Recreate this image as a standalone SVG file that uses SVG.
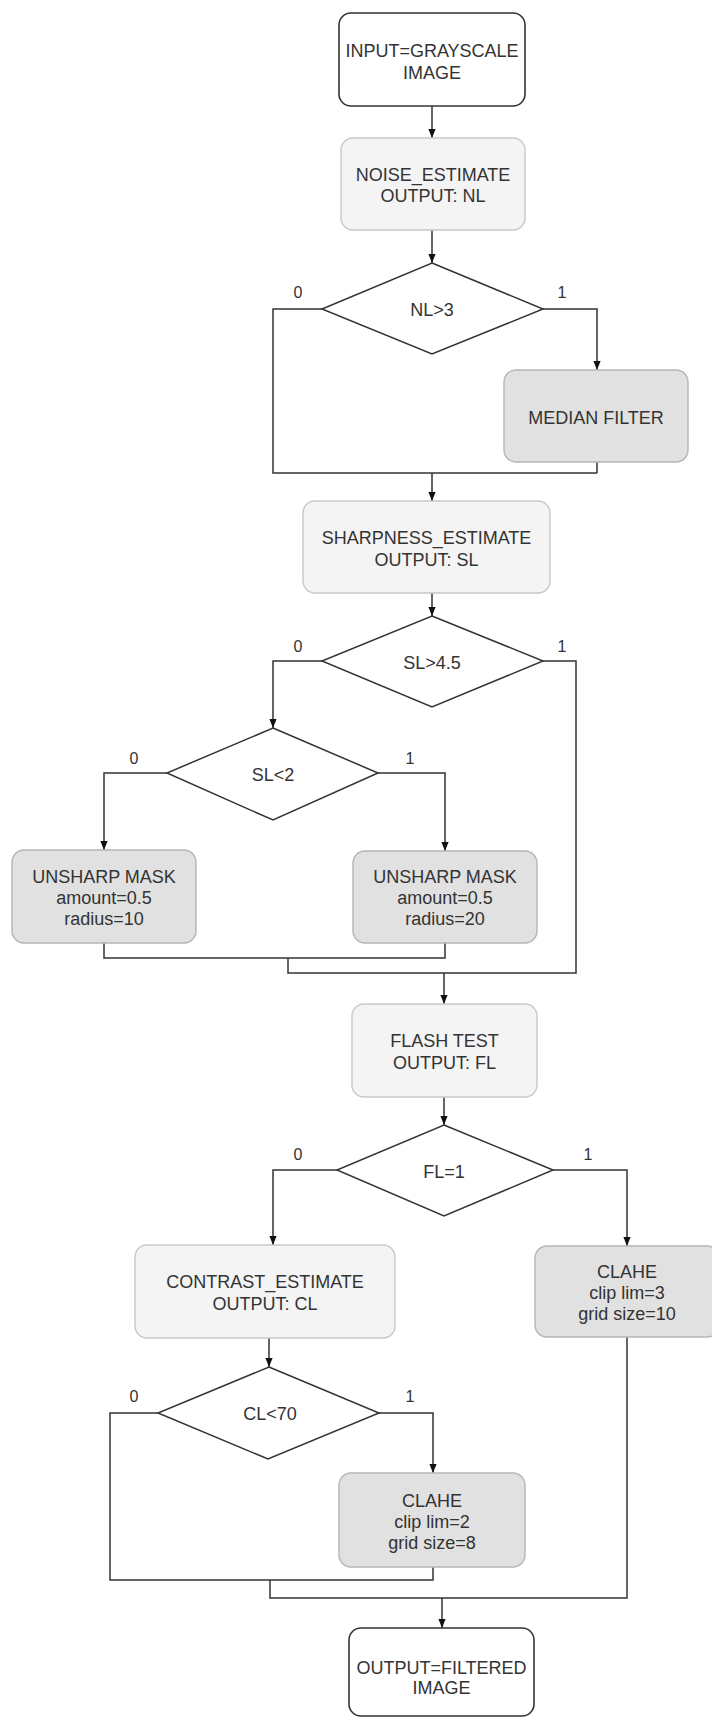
<svg xmlns="http://www.w3.org/2000/svg" width="712" height="1718" viewBox="0 0 712 1718">
<style>
  text { font-family: "Liberation Sans", Arial, sans-serif; font-size: 18px; fill: #333; text-anchor: middle; }
  .lbl { font-size: 16px; }
  .io { fill: #ffffff; stroke: #333; stroke-width: 1.6; }
  .est { fill: #f4f4f4; stroke: #c8c8c8; stroke-width: 1.4; }
  .act { fill: #e1e1e1; stroke: #b5b5b5; stroke-width: 1.4; }
  .dec { fill: #ffffff; stroke: #333; stroke-width: 1.5; }
  .c { fill: none; stroke: #333; stroke-width: 1.5; }
</style>
<defs>
  <marker id="arr" viewBox="0 0 10 8" refX="10" refY="4" markerWidth="9" markerHeight="8" markerUnits="userSpaceOnUse" orient="auto">
    <path d="M0,0 L10,4 L0,8 z" fill="#111"/>
  </marker>
</defs>
<rect width="712" height="1718" fill="#ffffff"/>

<g id="connectors">
  <path class="c" d="M432,106 V138" marker-end="url(#arr)"/>
  <path class="c" d="M432,230 V263" marker-end="url(#arr)"/>
  <path class="c" d="M322,309 H273 V473 H597"/>
  <path class="c" d="M543,309 H597 V370" marker-end="url(#arr)"/>
  <path class="c" d="M597,462 V473"/>
  <path class="c" d="M432,473 V501" marker-end="url(#arr)"/>
  <path class="c" d="M432,593 V616" marker-end="url(#arr)"/>
  <path class="c" d="M543,661 H576 V973 H288 V958"/>
  <path class="c" d="M322,661 H273 V728" marker-end="url(#arr)"/>
  <path class="c" d="M167,773 H104 V850" marker-end="url(#arr)"/>
  <path class="c" d="M378,773 H445 V851" marker-end="url(#arr)"/>
  <path class="c" d="M104,943 V958 H445 V943"/>
  <path class="c" d="M444,973 V1004" marker-end="url(#arr)"/>
  <path class="c" d="M444,1097 V1125" marker-end="url(#arr)"/>
  <path class="c" d="M337,1170 H273 V1245" marker-end="url(#arr)"/>
  <path class="c" d="M553,1170 H627 V1246" marker-end="url(#arr)"/>
  <path class="c" d="M269,1338 V1367" marker-end="url(#arr)"/>
  <path class="c" d="M158,1413 H110 V1580 H433 V1567"/>
  <path class="c" d="M379,1413 H433 V1473" marker-end="url(#arr)"/>
  <path class="c" d="M627,1337 V1598 H270 V1580"/>
  <path class="c" d="M442,1598 V1628" marker-end="url(#arr)"/>
  <text class="lbl" x="298" y="298">0</text>
  <text class="lbl" x="562" y="298">1</text>
  <text class="lbl" x="298" y="652">0</text>
  <text class="lbl" x="562" y="652">1</text>
  <text class="lbl" x="134" y="764">0</text>
  <text class="lbl" x="410" y="764">1</text>
  <text class="lbl" x="298" y="1160">0</text>
  <text class="lbl" x="588" y="1160">1</text>
  <text class="lbl" x="134" y="1402">0</text>
  <text class="lbl" x="410" y="1402">1</text>
</g>

<g id="input">
  <rect class="io" x="339" y="13" width="186" height="93" rx="12"/>
  <text x="432" y="56.5">INPUT=GRAYSCALE</text>
  <text x="432" y="78.5">IMAGE</text>
</g>
<g id="noise">
  <rect class="est" x="341" y="138" width="184" height="92" rx="12"/>
  <text x="433" y="180.5">NOISE_ESTIMATE</text>
  <text x="433" y="202">OUTPUT: NL</text>
</g>
<g id="d_nl">
  <polygon class="dec" points="432,263 543,309 432,354 322,309"/>
  <text x="432" y="315.5">NL&gt;3</text>
</g>
<g id="median">
  <rect class="act" x="504" y="370" width="184" height="92" rx="12"/>
  <text x="596" y="423.5">MEDIAN FILTER</text>
</g>
<g id="sharpness">
  <rect class="est" x="303" y="501" width="247" height="92" rx="12"/>
  <text x="426.5" y="543.5">SHARPNESS_ESTIMATE</text>
  <text x="426.5" y="566">OUTPUT: SL</text>
</g>
<g id="d_sl45">
  <polygon class="dec" points="432,616 543,661 432,707 322,661"/>
  <text x="432" y="669">SL&gt;4.5</text>
</g>
<g id="d_sl2">
  <polygon class="dec" points="273,728 378,773 273,820 167,773"/>
  <text x="273" y="781">SL&lt;2</text>
</g>
<g id="unsharp10">
  <rect class="act" x="12" y="850" width="184" height="93" rx="12"/>
  <text x="104" y="883">UNSHARP MASK</text>
  <text x="104" y="904">amount=0.5</text>
  <text x="104" y="925">radius=10</text>
</g>
<g id="unsharp20">
  <rect class="act" x="353" y="851" width="184" height="92" rx="12"/>
  <text x="445" y="883">UNSHARP MASK</text>
  <text x="445" y="904">amount=0.5</text>
  <text x="445" y="925">radius=20</text>
</g>
<g id="flash">
  <rect class="est" x="352" y="1004" width="185" height="93" rx="12"/>
  <text x="444.5" y="1046.5">FLASH TEST</text>
  <text x="444.5" y="1068.5">OUTPUT: FL</text>
</g>
<g id="d_fl">
  <polygon class="dec" points="444,1125 553,1170 444,1216 337,1170"/>
  <text x="444" y="1178">FL=1</text>
</g>
<g id="contrast">
  <rect class="est" x="135" y="1245" width="260" height="93" rx="12"/>
  <text x="265" y="1287.5">CONTRAST_ESTIMATE</text>
  <text x="265" y="1309.5">OUTPUT: CL</text>
</g>
<g id="clahe3">
  <rect class="act" x="535" y="1246" width="184" height="91" rx="12"/>
  <text x="627" y="1277.5">CLAHE</text>
  <text x="627" y="1298.5">clip lim=3</text>
  <text x="627" y="1319.5">grid size=10</text>
</g>
<g id="d_cl">
  <polygon class="dec" points="269,1367 379,1413 268,1459 158,1413"/>
  <text x="270" y="1419.5">CL&lt;70</text>
</g>
<g id="clahe2">
  <rect class="act" x="339" y="1473" width="186" height="94" rx="12"/>
  <text x="432" y="1506.5">CLAHE</text>
  <text x="432" y="1528">clip lim=2</text>
  <text x="432" y="1549">grid size=8</text>
</g>
<g id="output">
  <rect class="io" x="349" y="1628" width="185" height="88" rx="12"/>
  <text x="441.5" y="1673.5">OUTPUT=FILTERED</text>
  <text x="441.5" y="1694">IMAGE</text>
</g>
</svg>
